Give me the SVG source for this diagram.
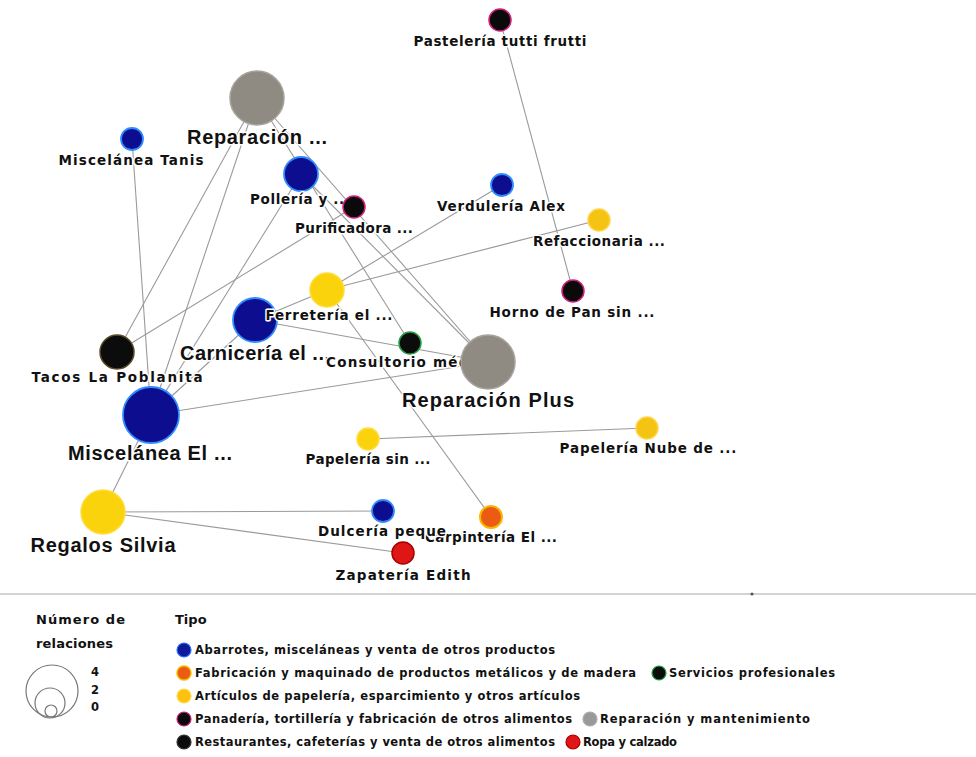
<svg xmlns="http://www.w3.org/2000/svg" width="976" height="757" viewBox="0 0 976 757">
<style>
.e{stroke:#9a9a9a;stroke-width:1.1;fill:none}
.lb{font-family:"DejaVu Sans","Liberation Sans",sans-serif;font-weight:bold;font-size:13.5px;fill:#111;text-anchor:middle;stroke:#fff;stroke-width:3;paint-order:stroke;stroke-linejoin:round}
.lg{font-family:"Liberation Sans",Arial,sans-serif;font-size:20px}
.blue{fill:#0d0d8f;stroke:#2f8cff;stroke-width:1.8}
.gray{fill:#8f8b82;stroke:#a8a49c;stroke-width:1.5}
.yel{fill:#fbd30c;stroke:#ffdc40;stroke-width:1.5}
.yel2{fill:#f5c312;stroke:#ffd54a;stroke-width:1.5}
.pan{fill:#0a0a0a;stroke:#d0207f;stroke-width:1.5}
.rest{fill:#0c0c0c;stroke:#5a4a2a;stroke-width:1.5}
.serv{fill:#0c0c0c;stroke:#22a044;stroke-width:1.5}
.fab{fill:#ec5b13;stroke:#f6b800;stroke-width:2}
.ropa{fill:#e01515;stroke:#a80000;stroke-width:1.5}
.lt{font-family:"DejaVu Sans","Liberation Sans",sans-serif;font-weight:bold;font-size:11.5px;fill:#111}
.lh{font-family:"DejaVu Sans","Liberation Sans",sans-serif;font-weight:bold;font-size:13px;fill:#111}
</style>
<rect width="976" height="757" fill="#fff"/>
<g id="connectors">
<line class="e" x1="500" y1="20" x2="573" y2="291"/>
<line class="e" x1="257" y1="98" x2="117" y2="352"/>
<line class="e" x1="257" y1="98" x2="151" y2="415"/>
<line class="e" x1="257" y1="98" x2="488" y2="362"/>
<line class="e" x1="257" y1="98" x2="410" y2="343"/>
<line class="e" x1="132" y1="139" x2="151" y2="415"/>
<line class="e" x1="301" y1="174" x2="151" y2="415"/>
<line class="e" x1="301" y1="174" x2="488" y2="362"/>
<line class="e" x1="354" y1="207" x2="117" y2="352"/>
<line class="e" x1="502" y1="185" x2="327" y2="290"/>
<line class="e" x1="599" y1="220" x2="327" y2="290"/>
<line class="e" x1="327" y1="290" x2="255" y2="320"/>
<line class="e" x1="327" y1="290" x2="491" y2="517"/>
<line class="e" x1="255" y1="320" x2="151" y2="415"/>
<line class="e" x1="255" y1="320" x2="488" y2="362"/>
<line class="e" x1="151" y1="415" x2="488" y2="362"/>
<line class="e" x1="103" y1="512" x2="151" y2="415"/>
<line class="e" x1="103" y1="512" x2="383" y2="511"/>
<line class="e" x1="103" y1="512" x2="403" y2="553"/>
<line class="e" x1="368" y1="439" x2="647" y2="428"/>
</g>
<g id="nodes">
<g id="n-pasteleria"><circle class="pan" cx="500" cy="20" r="11"/><text class="lb" x="500" y="46" textLength="173">Pastelería tutti frutti</text></g>
<g id="n-reparacion-top"><circle class="gray" cx="257" cy="98" r="27"/><text class="lb lg" x="257" y="144" textLength="140">Reparación ...</text></g>
<g id="n-tanis"><circle class="blue" cx="132" cy="139" r="11"/><text class="lb" x="131" y="165" textLength="145">Miscelánea Tanis</text></g>
<g id="n-polleria"><circle class="blue" cx="301" cy="174" r="17"/><text class="lb" x="300" y="204" textLength="100">Pollería y ...</text></g>
<g id="n-purificadora"><circle class="pan" cx="354" cy="207" r="11"/><text class="lb" x="354" y="233" textLength="118">Purificadora ...</text></g>
<g id="n-verduleria"><circle class="blue" cx="502" cy="185" r="11"/><text class="lb" x="501" y="211" textLength="128">Verdulería Alex</text></g>
<g id="n-refaccionaria"><circle class="yel2" cx="599" cy="220" r="11"/><text class="lb" x="599" y="246" textLength="132">Refaccionaria ...</text></g>
<g id="n-horno"><circle class="pan" cx="573" cy="291" r="11"/><text class="lb" x="572" y="317" textLength="165">Horno de Pan sin ...</text></g>
<g id="n-tacos"><circle class="rest" cx="117" cy="352" r="17"/><text class="lb" x="117" y="382" textLength="171">Tacos La Poblanita</text></g>
<g id="n-carniceria"><circle class="blue" cx="255" cy="320" r="22"/><text class="lb lg" x="255" y="360" textLength="150">Carnicería el ...</text></g>
<g id="n-ferreteria"><circle class="yel" cx="327" cy="290" r="17"/><text class="lb" x="329" y="320" textLength="127">Ferretería el ...</text></g>
<g id="n-consultorio"><circle class="serv" cx="410" cy="343" r="11"/><text class="lb" x="410" y="367" textLength="168">Consultorio médico</text></g>
<g id="n-reparacion-plus"><circle class="gray" cx="488" cy="362" r="27"/><text class="lb lg" x="488" y="407" textLength="172">Reparación Plus</text></g>
<g id="n-miscelanea-el"><circle class="blue" cx="151" cy="415" r="28"/><text class="lb lg" x="150" y="460" textLength="164">Miscelánea El ...</text></g>
<g id="n-papeleria-sin"><circle class="yel" cx="368" cy="439" r="11"/><text class="lb" x="368" y="464" textLength="125">Papelería sin ...</text></g>
<g id="n-papeleria-nube"><circle class="yel2" cx="647" cy="428" r="11"/><text class="lb" x="648" y="453" textLength="177">Papelería Nube de ...</text></g>
<g id="n-regalos"><circle class="yel" cx="103" cy="512" r="22"/><text class="lb lg" x="103" y="552" textLength="145">Regalos Silvia</text></g>
<g id="n-carpinteria"><circle class="fab" cx="491" cy="517" r="11"/><text class="lb" x="491" y="542" textLength="132">Carpintería El ...</text></g>
<g id="n-dulceria"><circle class="blue" cx="383" cy="511" r="11"/><text class="lb" x="382" y="536" textLength="128">Dulcería peque</text></g>
<g id="n-zapateria"><circle class="ropa" cx="403" cy="553" r="11"/><text class="lb" x="403" y="580" textLength="135">Zapatería Edith</text></g>
</g>
<g id="legend">
<line x1="0" y1="594" x2="976" y2="594" stroke="#c4c4c4" stroke-width="1.5"/>
<circle cx="752" cy="594" r="1.6" fill="#555"/>
<text class="lh" x="36" y="624" textLength="89">Número de</text>
<text class="lh" x="36" y="648" textLength="77">relaciones</text>
<circle cx="52" cy="691" r="26" fill="none" stroke="#777" stroke-width="1.2"/>
<circle cx="50" cy="703" r="15" fill="none" stroke="#777" stroke-width="1.2"/>
<circle cx="51" cy="711" r="6" fill="none" stroke="#777" stroke-width="1.2"/>
<text class="lt" x="91" y="676">4</text>
<text class="lt" x="91" y="694">2</text>
<text class="lt" x="91" y="711">0</text>
<text class="lh" x="175" y="624">Tipo</text>
<circle cx="184" cy="650" r="7" fill="#0d1a9a" stroke="#2f6cff" stroke-width="1.2"/>
<text class="lt" x="195" y="654" textLength="360">Abarrotes, misceláneas y venta de otros productos</text>
<circle cx="184" cy="673" r="7" fill="#ec5b13" stroke="#f6b800" stroke-width="1.5"/>
<text class="lt" x="195" y="677" textLength="441">Fabricación y maquinado de productos metálicos y de madera</text>
<circle cx="659" cy="673" r="7" fill="#0c0c0c" stroke="#22a044" stroke-width="1.2"/>
<text class="lt" x="669" y="677" textLength="166">Servicios profesionales</text>
<circle cx="184" cy="696" r="7" fill="#ffc20e" stroke="#ffd84a" stroke-width="1.2"/>
<text class="lt" x="195" y="700" textLength="385">Artículos de papelería, esparcimiento y otros artículos</text>
<circle cx="184" cy="719" r="7" fill="#0a0a0a" stroke="#d0207f" stroke-width="1.2"/>
<text class="lt" x="195" y="723" textLength="377">Panadería, tortillería y fabricación de otros alimentos</text>
<circle cx="590" cy="719" r="7" fill="#999" stroke="#aaa" stroke-width="1.2"/>
<text class="lt" x="600" y="723" textLength="210">Reparación y mantenimiento</text>
<circle cx="184" cy="742" r="7" fill="#0c0c0c" stroke="#333" stroke-width="1.2"/>
<text class="lt" x="195" y="746" textLength="360">Restaurantes, cafeterías y venta de otros alimentos</text>
<circle cx="573" cy="742" r="7" fill="#e01515" stroke="#a80000" stroke-width="1.2"/>
<text class="lt" x="583" y="746" textLength="94">Ropa y calzado</text>
</g>
</svg>
